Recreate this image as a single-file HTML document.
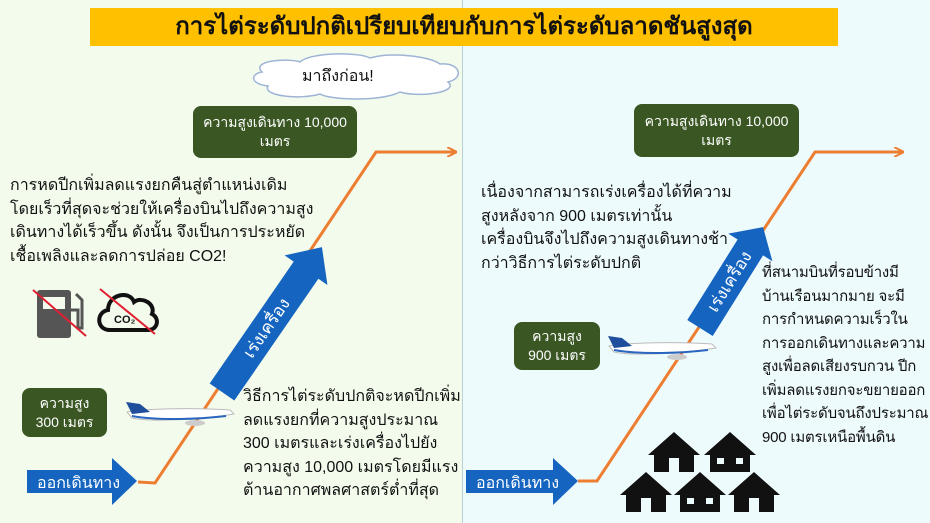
<!DOCTYPE html>
<html><head><meta charset="utf-8">
<style>
body{margin:0;width:930px;height:523px;overflow:hidden;font-family:"Liberation Sans","DejaVu Sans",sans-serif;}
.t{position:absolute;color:#111;font-size:16px;line-height:23.5px;white-space:nowrap;}
.g{position:absolute;background:#3a5723;color:#fff;border-radius:8px;text-align:center;font-size:14px;line-height:19px;display:flex;align-items:center;justify-content:center;}
</style></head><body>
<div style="position:absolute;left:0;top:0;width:462px;height:523px;background:#f3fbec"></div>
<div style="position:absolute;left:462px;top:0;width:468px;height:523px;background:#eefbfd;border-left:1px solid #b8d0d8"></div>
<div style="position:absolute;left:90px;top:8px;width:748px;height:38px;background:#ffc000;text-align:center;font-size:24px;font-weight:bold;line-height:38px;color:#111">การไต่ระดับปกติเปรียบเทียบกับการไต่ระดับลาดชันสูงสุด</div>

<svg width="930" height="523" style="position:absolute;left:0;top:0">
<defs><marker id="ah" markerWidth="10" markerHeight="10" refX="8" refY="5" orient="auto" markerUnits="userSpaceOnUse"><path d="M0,0 L10,5 L0,10" fill="none" stroke="#ed7d31" stroke-width="2"/></marker></defs>
<path d="M262,72 C250,60 290,58 300,62 C310,52 360,52 370,58 C390,52 430,56 440,64 C460,62 465,78 448,82 C460,92 420,98 400,92 C380,102 330,100 320,94 C300,100 262,96 268,86 C250,84 250,74 262,72Z" fill="#fff" stroke="#9db4d6" stroke-width="1.5"/>
<polyline points="138,482 155,483 376,152 455,152" fill="none" stroke="#ed7d31" stroke-width="3" marker-end="url(#ah)"/>
<polyline points="578,481 597,481 815,152 902,152" fill="none" stroke="#ed7d31" stroke-width="3" marker-end="url(#ah)"/>
<g transform="translate(222,392) rotate(-55.4)">
<polygon points="0,-15 148,-15 148,-26 176,0 148,26 148,15 0,15" fill="#1565c0"/>
<text x="78" y="6" fill="#fff" font-size="17" text-anchor="middle">เร่งเครื่อง</text></g>
<g transform="translate(700,328) rotate(-58)">
<polygon points="0,-15 95,-15 95,-26 119,0 95,26 95,15 0,15" fill="#1565c0"/>
<text x="55" y="6" fill="#fff" font-size="17" text-anchor="middle">เร่งเครื่อง</text></g>
<polygon points="27,470 112,470 112,458 137,481 112,505 112,493 27,493" fill="#1565c0"/>
<text x="37" y="488" fill="#fff" font-size="16">ออกเดินทาง</text>
<polygon points="466,470 553,470 553,458 578,481 553,505 553,493 466,493" fill="#1565c0"/>
<text x="476" y="488" fill="#fff" font-size="16">ออกเดินทาง</text>
<rect x="37" y="290" width="34" height="48" rx="3" fill="#555"/>
<rect x="43" y="297" width="22" height="12" fill="#f3fbec"/>
<path d="M71,310 L78,310 L78,328 L82,328 L82,300 L76,294" fill="none" stroke="#555" stroke-width="3"/>
<line x1="33" y1="290" x2="86" y2="336" stroke="#e02030" stroke-width="2"/>
<path d="M110,330 C96,330 96,312 108,310 C108,294 130,290 134,302 C142,296 156,304 152,314 C160,318 158,330 148,330Z" fill="none" stroke="#111" stroke-width="4"/>
<text x="114" y="323" font-size="11" font-weight="bold" fill="#111">CO₂</text>
<line x1="100" y1="289" x2="155" y2="334" stroke="#e02030" stroke-width="2"/>
<g id="pl"><path d="M127,412 C150,408 200,408 230,410 L234,414 C200,420 150,422 132,418Z" fill="#fff" stroke="#bbb" stroke-width="1"/>
<path d="M126,402 L140,404 L150,412 L132,414Z" fill="#1f4e9c"/>
<path d="M132,416 C160,421 200,419 226,416" stroke="#2a66c0" stroke-width="2" fill="none"/>
<ellipse cx="195" cy="423" rx="10" ry="3" fill="#ccc"/></g>
<use href="#pl" transform="translate(482,-66)"/>
<g fill="#111">
<path d="M648,455 L674,432 L700,455 L694,455 L694,472 L654,472 L654,455Z"/><rect x="669" y="458" width="10" height="14" fill="#eefbfd"/>
<path d="M704,455 L730,432 L756,455 L750,455 L750,472 L710,472 L710,455Z"/><rect x="717" y="458" width="7" height="6" fill="#eefbfd"/><rect x="736" y="458" width="7" height="6" fill="#eefbfd"/>
<path d="M620,495 L646,472 L672,495 L666,495 L666,512 L626,512 L626,495Z"/><rect x="641" y="498" width="10" height="14" fill="#eefbfd"/>
<path d="M674,495 L700,472 L726,495 L720,495 L720,512 L680,512 L680,495Z"/><rect x="687" y="498" width="7" height="6" fill="#eefbfd"/><rect x="706" y="498" width="7" height="6" fill="#eefbfd"/>
<path d="M728,495 L754,472 L780,495 L774,495 L774,512 L734,512 L734,495Z"/><rect x="749" y="498" width="10" height="14" fill="#eefbfd"/>
</g>
</svg>

<div class="t" style="left:302px;top:65px;font-size:16px">มาถึงก่อน!</div>
<div class="g" style="left:193px;top:106px;width:164px;height:52px">ความสูงเดินทาง 10,000<br>เมตร</div>
<div class="g" style="left:634px;top:104px;width:165px;height:53px">ความสูงเดินทาง 10,000<br>เมตร</div>
<div class="g" style="left:22px;top:388px;width:85px;height:49px">ความสูง<br>300 เมตร</div>
<div class="g" style="left:514px;top:322px;width:86px;height:48px">ความสูง<br>900 เมตร</div>

<div class="t" style="left:10px;top:174px">การหดปีกเพิ่มลดแรงยกคืนสู่ตำแหน่งเดิม<br>โดยเร็วที่สุดจะช่วยให้เครื่องบินไปถึงความสูง<br>เดินทางได้เร็วขึ้น ดังนั้น จึงเป็นการประหยัด<br>เชื้อเพลิงและลดการปล่อย CO2!</div>
<div class="t" style="left:243px;top:385px">วิธีการไต่ระดับปกติจะหดปีกเพิ่ม<br>ลดแรงยกที่ความสูงประมาณ<br>300 เมตรและเร่งเครื่องไปยัง<br>ความสูง 10,000 เมตรโดยมีแรง<br>ต้านอากาศพลศาสตร์ต่ำที่สุด</div>
<div class="t" style="left:481px;top:181px">เนื่องจากสามารถเร่งเครื่องได้ที่ความ<br>สูงหลังจาก 900 เมตรเท่านั้น<br>เครื่องบินจึงไปถึงความสูงเดินทางช้า<br>กว่าวิธีการไต่ระดับปกติ</div>
<div class="t" style="left:762px;top:261px;font-size:15px;letter-spacing:-0.2px">ที่สนามบินที่รอบข้างมี<br>บ้านเรือนมากมาย จะมี<br>การกำหนดความเร็วใน<br>การออกเดินทางและความ<br>สูงเพื่อลดเสียงรบกวน ปีก<br>เพิ่มลดแรงยกจะขยายออก<br>เพื่อไต่ระดับจนถึงประมาณ<br>900 เมตรเหนือพื้นดิน</div>
</body></html>
